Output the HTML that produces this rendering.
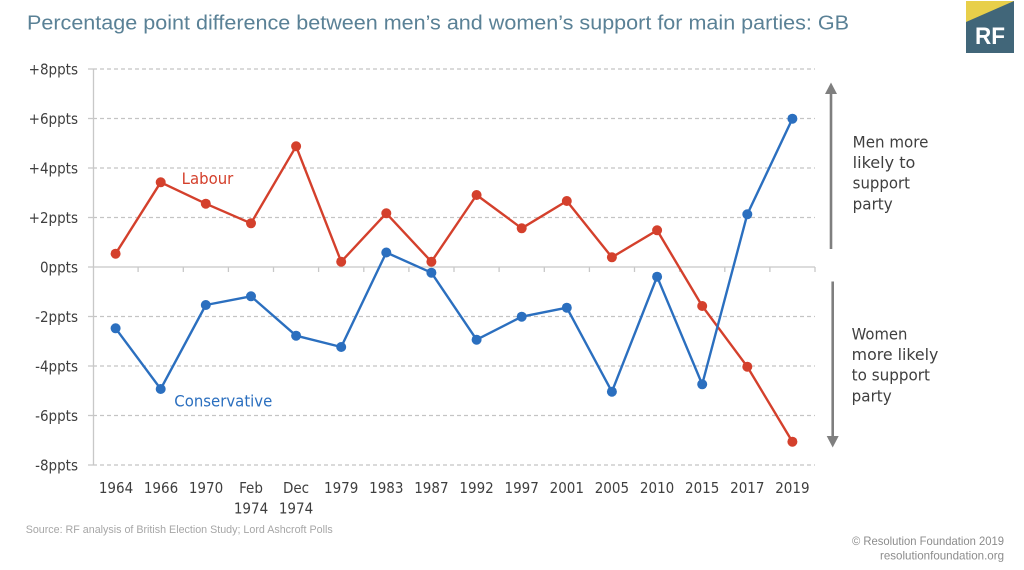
<!DOCTYPE html>
<html>
<head>
<meta charset="utf-8">
<style>
  html, body { margin:0; padding:0; background:#ffffff; }
  body { width:1024px; height:570px; overflow:hidden; }
  svg { display:block; }
  .lab { font-family:"DejaVu Sans Condensed","DejaVu Sans",sans-serif; }
</style>
</head>
<body>
<svg width="1024" height="570" viewBox="0 0 1024 570" xmlns="http://www.w3.org/2000/svg">
  <rect x="0" y="0" width="1024" height="570" fill="#ffffff"/>

  <!-- Title -->
  <text x="27" y="29.5" font-family="Liberation Sans, sans-serif" font-size="20" fill="#5a8196" textLength="822" lengthAdjust="spacingAndGlyphs">Percentage point difference between men’s and women’s support for main parties: GB</text>

  <!-- RF logo -->
  <rect x="966" y="1" width="48" height="52" fill="#416679"/>
  <polygon points="966,1 1014,1 966,22" fill="#e8cf4a"/>
  <text x="990" y="44" text-anchor="middle" font-family="Liberation Sans, sans-serif" font-weight="bold" font-size="24" fill="#ffffff" textLength="30" lengthAdjust="spacingAndGlyphs">RF</text>

  <!-- Gridlines -->
  <g stroke="#c4c4c4" stroke-width="1.2" stroke-dasharray="4,3">
    <line x1="93" y1="69" x2="815" y2="69"/>
    <line x1="93" y1="118.5" x2="815" y2="118.5"/>
    <line x1="93" y1="168" x2="815" y2="168"/>
    <line x1="93" y1="217.5" x2="815" y2="217.5"/>
    <line x1="93" y1="316.5" x2="815" y2="316.5"/>
    <line x1="93" y1="366" x2="815" y2="366"/>
    <line x1="93" y1="415.5" x2="815" y2="415.5"/>
    <line x1="93" y1="465" x2="815" y2="465"/>
  </g>

  <!-- Axes -->
  <g stroke="#c8c8c8" stroke-width="1.3" fill="none">
    <line x1="93.5" y1="69" x2="93.5" y2="465"/>
    <line x1="93" y1="267" x2="815" y2="267"/>
    <!-- y ticks -->
    <line x1="88" y1="69" x2="93" y2="69"/>
    <line x1="88" y1="118.5" x2="93" y2="118.5"/>
    <line x1="88" y1="168" x2="93" y2="168"/>
    <line x1="88" y1="217.5" x2="93" y2="217.5"/>
    <line x1="88" y1="267" x2="93" y2="267"/>
    <line x1="88" y1="316.5" x2="93" y2="316.5"/>
    <line x1="88" y1="366" x2="93" y2="366"/>
    <line x1="88" y1="415.5" x2="93" y2="415.5"/>
    <line x1="88" y1="465" x2="93" y2="465"/>
    <!-- x ticks on zero line -->
    <line x1="138.1" y1="267" x2="138.1" y2="272"/>
    <line x1="183.3" y1="267" x2="183.3" y2="272"/>
    <line x1="228.4" y1="267" x2="228.4" y2="272"/>
    <line x1="273.5" y1="267" x2="273.5" y2="272"/>
    <line x1="318.6" y1="267" x2="318.6" y2="272"/>
    <line x1="363.8" y1="267" x2="363.8" y2="272"/>
    <line x1="408.9" y1="267" x2="408.9" y2="272"/>
    <line x1="454" y1="267" x2="454" y2="272"/>
    <line x1="499.1" y1="267" x2="499.1" y2="272"/>
    <line x1="544.3" y1="267" x2="544.3" y2="272"/>
    <line x1="589.4" y1="267" x2="589.4" y2="272"/>
    <line x1="634.5" y1="267" x2="634.5" y2="272"/>
    <line x1="679.6" y1="267" x2="679.6" y2="272"/>
    <line x1="724.8" y1="267" x2="724.8" y2="272"/>
    <line x1="769.9" y1="267" x2="769.9" y2="272"/>
    <line x1="815" y1="267" x2="815" y2="272"/>
  </g>

  <!-- Y labels -->
  <g class="lab" font-size="15" fill="#3f3f3f" text-anchor="end">
    <text x="78" y="74.5">+8ppts</text>
    <text x="78" y="124">+6ppts</text>
    <text x="78" y="173.5">+4ppts</text>
    <text x="78" y="223">+2ppts</text>
    <text x="78" y="272.5">0ppts</text>
    <text x="78" y="322">-2ppts</text>
    <text x="78" y="371.5">-4ppts</text>
    <text x="78" y="421">-6ppts</text>
    <text x="78" y="470.5">-8ppts</text>
  </g>

  <!-- X labels -->
  <g class="lab" font-size="15" fill="#3f3f3f" text-anchor="middle">
    <text x="116" y="493">1964</text>
    <text x="161" y="493">1966</text>
    <text x="206" y="493">1970</text>
    <text x="251" y="493">Feb</text>
    <text x="251" y="513.5">1974</text>
    <text x="296" y="493">Dec</text>
    <text x="296" y="513.5">1974</text>
    <text x="341.2" y="493">1979</text>
    <text x="386.3" y="493">1983</text>
    <text x="431.4" y="493">1987</text>
    <text x="476.6" y="493">1992</text>
    <text x="521.7" y="493">1997</text>
    <text x="566.8" y="493">2001</text>
    <text x="611.9" y="493">2005</text>
    <text x="657.1" y="493">2010</text>
    <text x="702.2" y="493">2015</text>
    <text x="747.3" y="493">2017</text>
    <text x="792.4" y="493">2019</text>
  </g>

  <!-- Labour series -->
  <polyline fill="none" stroke="#d4402c" stroke-width="2.4" stroke-linejoin="round"
    points="115.6,253.7 160.7,182.3 205.8,203.7 251,223.3 296.1,146.3 341.2,261.7 386.3,213.3 431.4,261.7 476.6,195 521.7,228.3 566.8,201 611.9,257.3 657.1,230.3 702.2,306 747.3,366.7 792.4,441.7"/>
  <g fill="#d4402c">
    <circle cx="115.6" cy="253.7" r="5"/>
    <circle cx="160.7" cy="182.3" r="5"/>
    <circle cx="205.8" cy="203.7" r="5"/>
    <circle cx="251" cy="223.3" r="5"/>
    <circle cx="296.1" cy="146.3" r="5"/>
    <circle cx="341.2" cy="261.7" r="5"/>
    <circle cx="386.3" cy="213.3" r="5"/>
    <circle cx="431.4" cy="261.7" r="5"/>
    <circle cx="476.6" cy="195" r="5"/>
    <circle cx="521.7" cy="228.3" r="5"/>
    <circle cx="566.8" cy="201" r="5"/>
    <circle cx="611.9" cy="257.3" r="5"/>
    <circle cx="657.1" cy="230.3" r="5"/>
    <circle cx="702.2" cy="306" r="5"/>
    <circle cx="747.3" cy="366.7" r="5"/>
    <circle cx="792.4" cy="441.7" r="5"/>
  </g>

  <!-- Conservative series -->
  <polyline fill="none" stroke="#2b6fbf" stroke-width="2.4" stroke-linejoin="round"
    points="115.6,328.3 160.7,389 205.8,305 251,296.3 296.1,335.7 341.2,347 386.3,252.5 431.4,272.7 476.6,339.7 521.7,316.7 566.8,307.7 611.9,391.7 657.1,276.7 702.2,384.3 747.3,214.3 792.4,118.7"/>
  <g fill="#2b6fbf">
    <circle cx="115.6" cy="328.3" r="5"/>
    <circle cx="160.7" cy="389" r="5"/>
    <circle cx="205.8" cy="305" r="5"/>
    <circle cx="251" cy="296.3" r="5"/>
    <circle cx="296.1" cy="335.7" r="5"/>
    <circle cx="341.2" cy="347" r="5"/>
    <circle cx="386.3" cy="252.5" r="5"/>
    <circle cx="431.4" cy="272.7" r="5"/>
    <circle cx="476.6" cy="339.7" r="5"/>
    <circle cx="521.7" cy="316.7" r="5"/>
    <circle cx="566.8" cy="307.7" r="5"/>
    <circle cx="611.9" cy="391.7" r="5"/>
    <circle cx="657.1" cy="276.7" r="5"/>
    <circle cx="702.2" cy="384.3" r="5"/>
    <circle cx="747.3" cy="214.3" r="5"/>
    <circle cx="792.4" cy="118.7" r="5"/>
  </g>

  <!-- Series labels -->
  <text class="lab" x="181.7" y="184" font-size="16" fill="#d4402c" textLength="51.6" lengthAdjust="spacingAndGlyphs">Labour</text>
  <text class="lab" x="174.3" y="406.7" font-size="16" fill="#2b6fbf" textLength="98" lengthAdjust="spacingAndGlyphs">Conservative</text>

  <!-- Arrows -->
  <line x1="831" y1="249" x2="831" y2="92" stroke="#7f7f7f" stroke-width="2.6"/>
  <polygon points="831,82.5 825,94 837,94" fill="#7f7f7f"/>
  <line x1="832.7" y1="281.5" x2="832.7" y2="438" stroke="#7f7f7f" stroke-width="2.6"/>
  <polygon points="832.7,447.5 826.7,436 838.7,436" fill="#7f7f7f"/>

  <!-- Right annotations -->
  <g class="lab" font-size="16" fill="#3f3f3f">
    <text x="852.7" y="147.3" textLength="75.7" lengthAdjust="spacingAndGlyphs">Men more</text>
    <text x="852.7" y="168" textLength="62.7" lengthAdjust="spacingAndGlyphs">likely to</text>
    <text x="852.7" y="188.7" textLength="57.3" lengthAdjust="spacingAndGlyphs">support</text>
    <text x="852.7" y="209.3" textLength="40" lengthAdjust="spacingAndGlyphs">party</text>

    <text x="851.7" y="339.3" textLength="55.7" lengthAdjust="spacingAndGlyphs">Women</text>
    <text x="851.7" y="360" textLength="86.7" lengthAdjust="spacingAndGlyphs">more likely</text>
    <text x="851.7" y="380.7" textLength="78.3" lengthAdjust="spacingAndGlyphs">to support</text>
    <text x="851.7" y="401.3" textLength="40" lengthAdjust="spacingAndGlyphs">party</text>
  </g>

  <!-- Footer -->
  <text x="25.7" y="533" font-family="Liberation Sans, sans-serif" font-size="11" fill="#a6a6a6" textLength="307" lengthAdjust="spacingAndGlyphs">Source: RF analysis of British Election Study; Lord Ashcroft Polls</text>
  <text x="1004" y="545" text-anchor="end" font-family="Liberation Sans, sans-serif" font-size="12" fill="#8c8c8c" textLength="152" lengthAdjust="spacingAndGlyphs">© Resolution Foundation 2019</text>
  <text x="1004" y="559.5" text-anchor="end" font-family="Liberation Sans, sans-serif" font-size="12" fill="#8c8c8c" textLength="124" lengthAdjust="spacingAndGlyphs">resolutionfoundation.org</text>
</svg>
</body>
</html>
